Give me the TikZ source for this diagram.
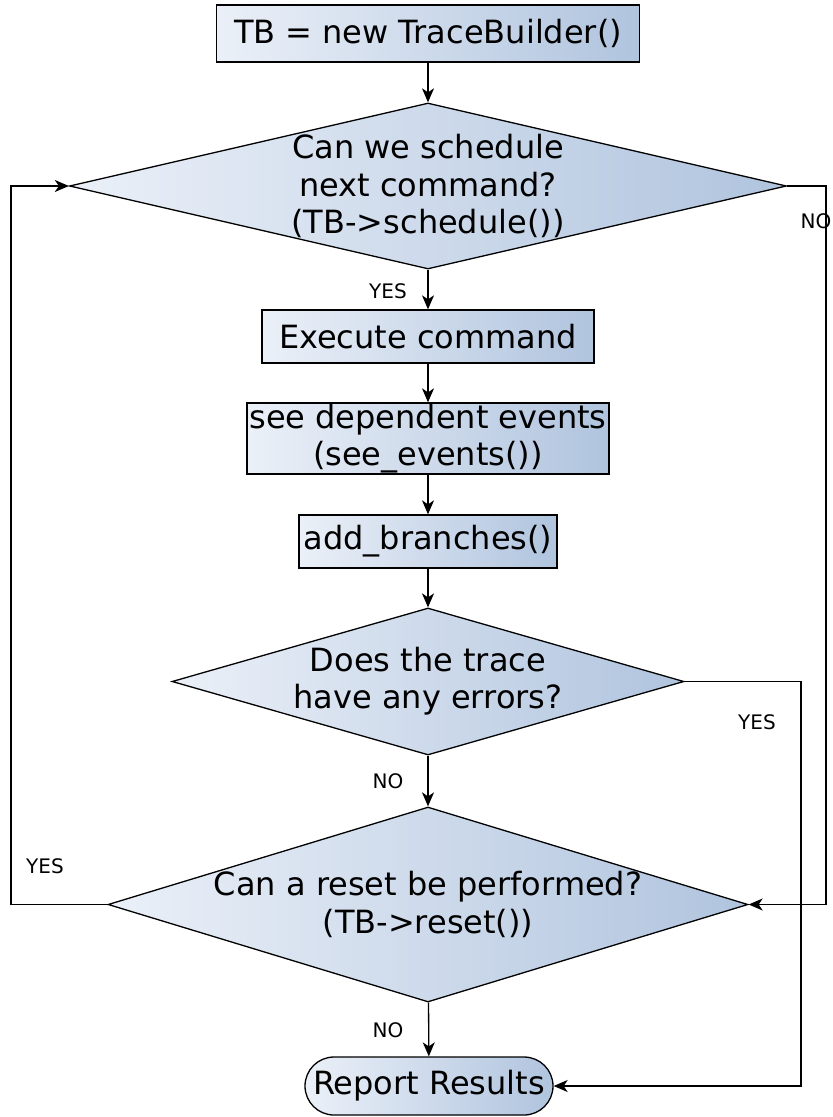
\documentclass[tikz,border=0pt]{standalone}
\usepackage{fontspec}
\setmainfont{DejaVu Sans}
\usepackage{tikz}
\usetikzlibrary{positioning, arrows.meta, shapes.geometric, shapes.misc}
\definecolor{shadeL}{HTML}{EBF0F8}
\definecolor{shadeR}{HTML}{B0C4DE}

\begin{document}
\begin{tikzpicture}[
    x=0.5pt, y=-0.5pt,
    line width=0.65pt,
    every node/.style={font=\fontsize{16pt}{18.6pt}\selectfont},
    step box/.style={rectangle, draw, left color=shadeL, right color=shadeR, inner sep=0pt},
    decision/.style={diamond, draw, left color=shadeL, right color=shadeR, inner sep=0pt},
    dtext/.style={align=center, inner sep=0pt},
    endbox/.style={rounded rectangle, draw, left color=shadeL, right color=shadeR, inner sep=0pt},
    answer/.style={font=\fontsize{10pt}{12pt}\selectfont, inner sep=0pt},
    arr/.style={-{Stealth[length=7pt, width=6pt, inset=2pt]}}
]
\useasboundingbox (0,0) rectangle (833,1117);

\node[step box, minimum width=211.5pt, minimum height=28.5pt] (tb) at (428,33.5) {TB = new TraceBuilder()};
    \node[decision, minimum width=358.5pt, minimum height=83pt] (sched) at (428,186) {};
    \node[dtext] (schedtxt) at (428,186) {Can we schedule\\next command?\\(TB->schedule())};
    \node[step box, minimum width=166pt, minimum height=26.5pt] (exec) at (428,336.5) {Execute command};
    \node[step box, minimum width=181pt, minimum height=35.5pt, align=center] (see) at (428,438.5) {see dependent events\\(see\_events())};
    \node[step box, minimum width=129pt, minimum height=26.5pt] (branch) at (428,541.5) {add\_branches()};
    \node[decision, minimum width=256pt, minimum height=73.5pt] (err) at (428,681.5) {};
    \node[dtext] (errtxt) at (428,681.5) {Does the trace\\have any errors?};
    \node[decision, minimum width=320pt, minimum height=97.5pt] (reset) at (428,904.5) {};
    \node[dtext] (resettxt) at (428,904.5) {Can a reset be performed?\\(TB->reset())};
    \node[endbox, minimum width=124pt, minimum height=29pt] (report) at (429,1086) {Report Results};

\coordinate (rightNo) at (826,0);
    \coordinate (rightYes) at (801,0);
    \coordinate (leftYes) at (11,0);

\draw[arr] (tb) -- (sched);
    \draw[arr] (sched) -- (exec);
    \draw[arr] (exec) -- (see);
    \draw[arr] (see) -- (branch);
    \draw[arr] (branch) -- (err);
    \draw[arr] (err) -- (reset);
    \draw[arr] (reset) -- (report);
    \draw[arr] (sched.east) -- (sched.east -| rightNo) |- (reset.east);
    \draw[arr] (err.east) -- (err.east -| rightYes) |- (report.east);
    \draw[arr] (reset.west) -- (reset.west -| leftYes) |- (sched.west);

\node[answer] (yes1) at (388,291) {YES};
    \node[answer] (no1) at (816,221) {NO};
    \node[answer] (yes2) at (757,722) {YES};
    \node[answer] (no2) at (388,781) {NO};
    \node[answer] (yes3) at (45,866) {YES};
    \node[answer] (no3) at (388,1030) {NO};
\end{tikzpicture}
\end{document}
